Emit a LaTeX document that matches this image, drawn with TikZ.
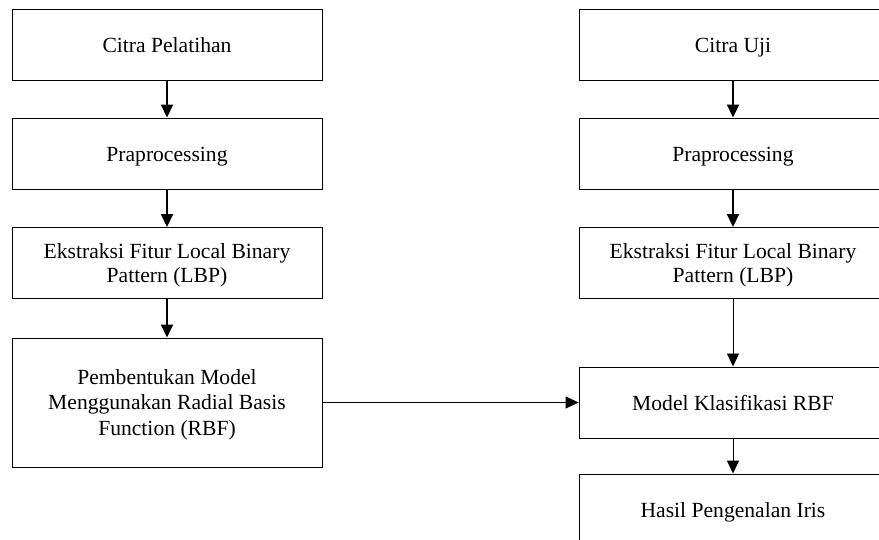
\documentclass[tikz,border=0pt]{standalone}
\usepackage{fontspec}
\setmainfont{Liberation Serif}
\usetikzlibrary{arrows.meta}
\begin{document}
\begin{tikzpicture}[x=1pt,y=-1pt,
  box/.style={draw, line width=0.9pt, align=center, inner sep=0pt,
    minimum width=310pt, minimum height=71pt, text depth=0pt,
    font=\fontsize{21.6}{24.5}\selectfont},
  oneline/.style={text height=16pt},
  tall/.style={font=\fontsize{21.6}{25.5}\selectfont},
  arrowthick/.style={-{Triangle[width=12pt,length=13pt]}, line width=1.8pt},
  arrowthin/.style={-{Triangle[width=12pt,length=13pt]}, line width=0.9pt}]
\useasboundingbox (0,0) rectangle (879,540);
\clip (0,0) rectangle (879,540);
% left column
\node[box, oneline] (l1) at (167,44.5) {Citra Pelatihan};
\node[box, oneline] (l2) at (167,153.5) {Praprocessing};
\node[box] (l3) at (167,263) {Ekstraksi Fitur Local Binary\\Pattern (LBP)};
\node[box, tall, minimum height=129pt] (l4) at (167,402.5) {Pembentukan Model\\Menggunakan Radial Basis\\Function (RBF)};
% right column
\node[box, oneline, minimum width=308pt] (r1) at (733,44.5) {Citra Uji};
\node[box, oneline, minimum width=308pt] (r2) at (733,153.5) {Praprocessing};
\node[box, minimum width=308pt] (r3) at (733,263) {Ekstraksi Fitur Local Binary\\Pattern (LBP)};
\node[box, oneline, minimum width=308pt] (r4) at (733,402.5) {Model Klasifikasi RBF};
\node[box, oneline, minimum width=308pt] (r5) at (733,509.5) {Hasil Pengenalan Iris};
% connectors
\draw[arrowthick] (l1) -- (l2);
\draw[arrowthick] (l2) -- (l3);
\draw[arrowthick] (l3) -- (l4);
\draw[arrowthick] (r1) -- (r2);
\draw[arrowthick] (r2) -- (r3);
\draw[arrowthin] (r3) -- (r4);
\draw[arrowthin] (r4) -- (r5);
\draw[arrowthin] (l4) -- (r4);
\end{tikzpicture}
\end{document}
